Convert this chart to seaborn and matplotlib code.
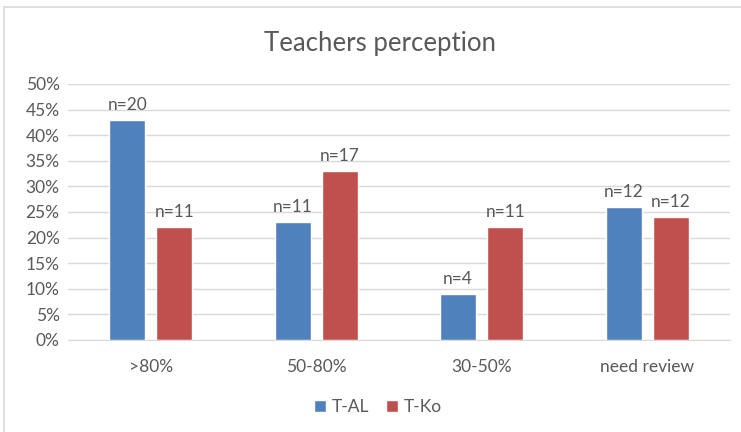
import pandas as pd
import matplotlib
matplotlib.use("Agg")
import matplotlib.pyplot as plt
from matplotlib.patches import Rectangle
from matplotlib.ticker import PercentFormatter
import seaborn as sns

# Data
categories = [">80%", "50-80%", "30-50%", "need review"]
t_al = [43, 23, 9, 26]
t_ko = [22, 33, 22, 24]
n_al = [20, 11, 4, 12]
n_ko = [11, 17, 11, 12]
series = ["T-AL", "T-Ko"]
colors = ["#4F81BD", "#C0504D"]

df = pd.DataFrame({
    "category": categories * 2,
    "value": t_al + t_ko,
    "group": [series[0]] * 4 + [series[1]] * 4,
    "n": n_al + n_ko,
})

sns.set_style("white")
plt.rcParams["font.family"] = ["Lato", "DejaVu Sans"]
text_color = "#595959"

fig = plt.figure(figsize=(7.41, 4.32), dpi=100)
ax = fig.add_axes([68 / 741, 92 / 432, 662 / 741, 256 / 432])

sns.barplot(data=df, x="category", y="value", hue="group", palette=colors,
            order=categories, hue_order=series, width=0.57, gap=0.23,
            saturation=1, ax=ax, zorder=2)

# n= labels above each bar
for container, ns in zip(ax.containers, [n_al, n_ko]):
    ax.bar_label(container, labels=[f"n={v}" for v in ns], padding=5,
                 fontsize=12.5, color=text_color)

ax.set_ylim(0, 50)
ax.set_yticks(range(0, 51, 5))
ax.yaxis.set_major_formatter(PercentFormatter(decimals=0))
ax.set_xlim(-0.5, 3.5)
ax.grid(axis="y", color="#D9D9D9", linewidth=1, zorder=0)
ax.set_axisbelow(True)
for side in ["top", "right", "left"]:
    ax.spines[side].set_visible(False)
ax.spines["bottom"].set_color("#D9D9D9")
ax.tick_params(axis="both", length=0, labelsize=12.5, colors=text_color)
ax.tick_params(axis="x", pad=14)
ax.tick_params(axis="y", pad=6)
ax.set_xlabel("")
ax.set_ylabel("")

fig.text(0.513, 1 - 44 / 432, "Teachers perception", ha="center", va="center",
         fontsize=18.5, color=text_color)

handles, labels = ax.get_legend_handles_labels()
ax.legend_.remove()
fig.legend(handles, labels, loc="center", bbox_to_anchor=(0.51, 1 - 407 / 432),
           ncol=2, frameon=False, fontsize=12.5, handlelength=0.7,
           handleheight=0.7, handletextpad=0.3, columnspacing=1.0,
           labelcolor=text_color)

# chart border
fig.patches.append(Rectangle((4 / 741, -0.1), 1.1, 1 - 7 / 432 + 0.1,
                             transform=fig.transFigure, fill=False,
                             edgecolor="#D9D9D9", linewidth=1.2))

fig.savefig("out.png", dpi=100)
